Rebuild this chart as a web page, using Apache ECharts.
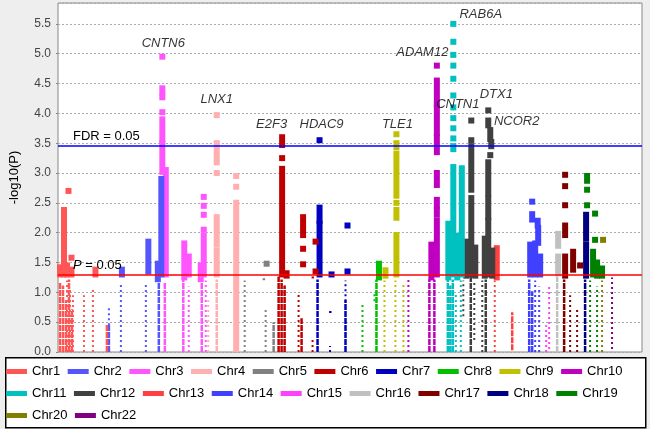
<!DOCTYPE html>
<html><head><meta charset="utf-8">
<script src="https://cdn.jsdelivr.net/npm/echarts/dist/echarts.min.js"></script>
<style>html,body{margin:0;padding:0;background:#eeeeee}#chart{width:650px;height:429px}</style>
</head><body><div id="chart"></div>
<script>
// ---------------- data ----------------
const chromosomes = ['Chr1','Chr2','Chr3','Chr4','Chr5','Chr6','Chr7','Chr8','Chr9','Chr10',
  'Chr11','Chr12','Chr13','Chr14','Chr15','Chr16','Chr17','Chr18','Chr19','Chr20','Chr22'];

const yTicks = [0, 0.5, 1, 1.5, 2, 2.5, 3, 3.5, 4, 4.5, 5, 5.5];
const fdrLevel = 3.45;     // FDR = 0.05
const pLevel = 1.301;      // P = 0.05  (-log10 0.05)

// runs of large markers: [chromosome index, genomic position, -log10P from, -log10P to]
const bigMarkerRuns = [
  [0, 6, 1.3, 2.38], [0, 10.5, 2.7, 2.7], [0, 13.5, 1.58, 1.58], [0, 2, 1.3, 1.42], [0, 9, 1.3, 1.45], [0, 13.5, 1.3, 1.38], [0, 37.5, 1.3, 1.38],
  [1, 64, 1.3, 1.38], [1, 90.5, 1.35, 1.85], [1, 103.5, 1.3, 2.9], [1, 100, 1.22, 1.48],
  [2, 104.5, 4.95, 4.95], [2, 104.5, 4.35, 4.42], [2, 104.5, 4.27, 4.27], [2, 104.5, 4.02, 4.02], [2, 104.5, 3.55, 3.9], [2, 104.5, 3.02, 3.5],
  [2, 108, 1.3, 3.05], [2, 126.5, 1.25, 1.82], [2, 131, 1.3, 1.6], [2, 146, 2.6, 2.6], [2, 146, 2.45, 2.45], [2, 146, 2.3, 2.3], [2, 146, 2.05, 2.05], [2, 146, 1.3, 1.95], [2, 143, 1.22, 1.45],
  [3, 159, 3.97, 3.97], [3, 159, 3.18, 3.5], [3, 159, 3.0, 3.0], [3, 159, 1.8, 2.26], [3, 159, 1.3, 1.7], [3, 178.5, 2.95, 2.95], [3, 178.5, 2.77, 2.77], [3, 178.5, 0.04, 2.5],
  [4, 209, 1.48, 1.48],
  [5, 224.5, 3.47, 3.6], [5, 224.5, 3.25, 3.25], [5, 224.5, 1.3, 3.07], [5, 229, 1.28, 1.32], [5, 245.5, 1.96, 2.26], [5, 245.5, 1.73, 1.73], [5, 245.5, 1.47, 1.47], [5, 258, 1.85, 1.85], [5, 258, 1.35, 1.35],
  [6, 262, 3.55, 3.55], [6, 262, 2.2, 2.42], [6, 262, 1.3, 2.15], [6, 274, 1.3, 1.3], [6, 290, 2.12, 2.12], [6, 290, 1.35, 1.35],
  [7, 321.5, 1.25, 1.48],
  [8, 328, 1.28, 1.37], [8, 339, 3.65, 3.65], [8, 339, 3.43, 3.5], [8, 339, 2.62, 3.32], [8, 339, 2.5, 2.5], [8, 339, 2.25, 2.38], [8, 339, 1.3, 1.96],
  [9, 379.5, 4.8, 4.8], [9, 379.5, 4.15, 4.55], [9, 379.5, 3.67, 4.1], [9, 379.5, 3.5, 3.6], [9, 379.5, 3.35, 3.42], [9, 379.5, 2.95, 3.0], [9, 379.5, 2.8, 2.85],
  [9, 379.5, 2.45, 2.55], [9, 379.5, 2.3, 2.38], [9, 379.5, 1.3, 2.2], [9, 374, 1.25, 1.8],
  [10, 396, 5.5, 5.5], [10, 396, 5.2, 5.2], [10, 396, 4.98, 4.98], [10, 396, 4.8, 4.8], [10, 396, 4.58, 4.58], [10, 396, 4.3, 4.3], [10, 396, 4.1, 4.1],
  [10, 396, 3.92, 3.92], [10, 396, 3.75, 3.75], [10, 396, 3.58, 3.58], [10, 396, 3.4, 3.45], [10, 396, 3.1, 3.1], [10, 396, 1.3, 3.0],
  [10, 404.5, 1.3, 3.08], [10, 391, 1.25, 2.15], [10, 400, 1.25, 1.95],
  [11, 414, 3.88, 3.88], [11, 414, 3.55, 3.55], [11, 414, 2.72, 3.45], [11, 414, 1.3, 2.58], [11, 409, 1.28, 1.85], [11, 418, 1.28, 1.75],
  [11, 431, 4.05, 4.05], [11, 431, 3.8, 3.88], [11, 433, 3.57, 3.72], [11, 434, 3.45, 3.52], [11, 433, 3.3, 3.3], [11, 431, 2.66, 3.18], [11, 431, 2.26, 2.58],
  [11, 431, 1.3, 2.2], [11, 427.5, 1.28, 1.9], [11, 435, 1.28, 1.7],
  [12, 439.5, 1.25, 1.74],
  [13, 475, 2.52, 2.52], [13, 475, 2.22, 2.31], [13, 480.5, 2.12, 2.2], [13, 481, 1.83, 2.08], [13, 473, 1.3, 1.8], [13, 478, 1.3, 1.82], [13, 483, 1.3, 1.6],
  [15, 501, 1.78, 1.98], [15, 501, 1.32, 1.6],
  [16, 508, 2.97, 2.97], [16, 508, 2.78, 2.78], [16, 508, 2.46, 2.46], [16, 508, 1.96, 2.12], [16, 508, 1.28, 1.6], [16, 516, 1.38, 1.68], [16, 523, 1.45, 1.45],
  [17, 529, 1.9, 2.3], [17, 529, 1.28, 1.8],
  [18, 530, 2.87, 2.95], [18, 530, 2.72, 2.72], [18, 530, 2.46, 2.46], [18, 538, 2.32, 2.32], [18, 538, 1.88, 1.88], [18, 536, 1.3, 1.68], [18, 540, 1.28, 1.5], [18, 545, 1.28, 1.4],
  [19, 546, 1.88, 1.88]
];

// dense runs of small markers (below P = 0.05)
const denseDotRuns = [
  [0, 2, 0, 1.15], [0, 5, 0, 1.1], [0, 8, 0, 0.85], [0, 11, 0, 1.2], [0, 14, 0, 0.7], [0, 49, 0, 0.45],
  [1, 51, 0, 0.45], [1, 101, 0, 1.25],
  [2, 107, 0, 1.15], [2, 125.5, 0, 1.2], [2, 144, 0, 1.2],
  [3, 159, 0, 1.2],
  [4, 216, 0, 0.48],
  [5, 221, 0, 1.25], [5, 224, 0, 1.2], [5, 227, 0, 1.1], [5, 244, 0, 0.55],
  [6, 260, 0, 1.2], [6, 288, 0, 0.85],
  [7, 319, 0, 1.2],
  [9, 372, 0, 1.2], [9, 377, 0, 1.2],
  [10, 390.5, 0, 1.2], [10, 393, 0, 1.1], [10, 395.5, 0, 1.2],
  [11, 413.5, 0, 1.25], [11, 428.5, 0, 1.2],
  [12, 455, 0.03, 0.65],
  [13, 472, 0, 1.2], [13, 475, 0, 1.0],
  [15, 500, 0, 1.25],
  [16, 507, 0, 1.2],
  [17, 528, 0, 1.2]
];

// sparse runs / single small markers
const sparseDotRuns = [
  [0, 9, 0, 1.2], [0, 12, 0, 1.05], [0, 15, 0, 0.95], [0, 26, 0, 0.95], [0, 35, 0, 1.05],
  [1, 63, 0, 1.15], [1, 51, 0.45, 0.75], [1, 88, 0, 1.15],
  [2, 131, 0, 1.1], [2, 148, 0, 1.2],
  [3, 150.5, 0, 0.92],
  [4, 187, 0, 1.2], [4, 208, 0, 0.73], [4, 206, 1.22, 1.22],
  [5, 241, 0, 1.0], [5, 255, 0, 0.25], [5, 255, 1.25, 1.25],
  [6, 272.5, 0, 0.1], [6, 272.5, 0.67, 0.67], [6, 288, 0.85, 1.2],
  [7, 305, 0, 0.8], [7, 317, 0.85, 0.98],
  [8, 327, 0, 1.2], [8, 338, 0, 1.2], [8, 346, 0, 1.15],
  [9, 351, 0, 1.25],
  [10, 398.5, 0, 1.0], [10, 403.5, 0, 1.2],
  [11, 406, 0.6, 1.2], [11, 425, 0, 1.2], [11, 417, 0.2, 1.2],
  [12, 437.5, 0, 1.2],
  [13, 478, 0, 1.2], [13, 482, 0, 1.1],
  [14, 492, 0.05, 1.1], [14, 489, 0, 0.45],
  [16, 513, 0, 0.95], [16, 520, 0, 0.75],
  [18, 533, 0, 1.2], [18, 540, 0, 1.1],
  [19, 545, 0, 1.2],
  [20, 555, 0.05, 1.25]
];

// gene annotations: [name, position, -log10P of label]
const geneLabels = [
  ['CNTN6', 105.5, 5.18], ['LNX1', 159, 4.24], ['E2F3', 214, 3.82], ['HDAC9', 264, 3.82], ['TLE1', 340, 3.82],
  ['ADAM12', 365, 5.03], ['RAB6A', 423.5, 5.66], ['CNTN1', 400.5, 4.15], ['DTX1', 439, 4.32], ['NCOR2', 459.5, 3.87]
];

// ---------------- styling ----------------
const colors = ['#ff5555','#5555ff','#ff55ff','#ffafaf','#808080','#c00000','#0000c0','#00c000','#c0c000','#c000c0',
  '#00c0c0','#404040','#ff4040','#4040ff','#ff40ff','#c0c0c0','#800000','#000080','#008000','#808000','#800080'];
const FONT = 'Liberation Sans, Arial, sans-serif';

function renderItem(params, api) {
  const kind = api.value(0), pos = api.value(1), lo = api.value(2), hi = api.value(3);
  const p0 = api.coord([pos, lo]), p1 = api.coord([pos, hi]);
  const color = api.visual('color');
  if (kind === 0) {
    return {type: 'rect', shape: {x: p0[0] - 3, y: p1[1] - 3, width: 6, height: p0[1] - p1[1] + 6}, style: {fill: color}};
  }
  if (kind === 1) {
    return {type: 'line', shape: {x1: p0[0], y1: p0[1], x2: p1[0], y2: p1[1] - 1},
      style: {stroke: color, lineWidth: 2.5, lineDash: [6, 1]}};
  }
  if (p0[1] - p1[1] < 2) {
    return {type: 'rect', shape: {x: p0[0] - 1, y: p1[1] - 1, width: 2.5, height: p0[1] - p1[1] + 2}, style: {fill: color}};
  }
  return {type: 'line', shape: {x1: p0[0], y1: p0[1], x2: p1[0], y2: p1[1]},
    style: {stroke: color, lineWidth: 2, lineDash: [2, 3]}};
}

const series = [];
for (let i = chromosomes.length - 1; i >= 0; i--) {
  const data = [];
  bigMarkerRuns.filter(r => r[0] === i).forEach(r => data.push([0, r[1], r[2], r[3]]));
  denseDotRuns.filter(r => r[0] === i).forEach(r => data.push([1, r[1], r[2], r[3]]));
  sparseDotRuns.filter(r => r[0] === i).forEach(r => data.push([2, r[1], r[2], r[3]]));
  series.push({
    name: chromosomes[i], type: 'custom', renderItem: renderItem,
    itemStyle: {color: colors[i]}, encode: {x: 1, y: [2, 3]},
    data: data, clip: true, silent: true, animation: false
  });
}
series.push({
  type: 'scatter', z: 10, silent: true, animation: false,
  data: geneLabels.map(g => [g[1], g[2], g[0]]),
  symbolSize: 1, itemStyle: {color: 'rgba(0,0,0,0)'},
  label: {show: true, position: 'inside', formatter: p => p.value[2], fontStyle: 'italic', fontSize: 13, color: '#000', fontFamily: FONT},
  markLine: {
    symbol: 'none', silent: true, animation: false,
    data: [
      {yAxis: fdrLevel, lineStyle: {color: '#0000ff', width: 1.5, type: 'solid'},
       label: {show: true, position: 'insideStartTop', formatter: 'FDR = 0.05', color: '#000', fontSize: 13, fontFamily: FONT, distance: [15, 3]}},
      {yAxis: pLevel, lineStyle: {color: '#ff0000', width: 1.5, type: 'solid'},
       label: {show: true, position: 'insideStartTop', formatter: '{i|P} = 0.05', color: '#000', fontSize: 13, fontFamily: FONT, distance: [15, 3],
         rich: {i: {fontStyle: 'italic', fontSize: 13, color: '#000', fontFamily: FONT}}}}
    ]
  }
});

const legendBase = {itemGap: 7.5, itemWidth: 21, itemHeight: 5, icon: 'rect', padding: 0,
  textStyle: {fontSize: 13, color: '#000', fontFamily: FONT}, selectedMode: false};

const option = {
  backgroundColor: '#eeeeee',
  textStyle: {fontFamily: FONT},
  animation: false,
  color: colors,
  grid: {left: 57, right: 8, top: 3, bottom: 77, show: true, backgroundColor: '#ffffff', borderColor: '#888888', borderWidth: 1},
  xAxis: {type: 'value', min: 0, max: 585, show: false},
  yAxis: {
    type: 'value', min: 0, max: 5.85, interval: 0.5,
    name: '-log10(P)', nameLocation: 'middle', nameGap: 37,
    nameTextStyle: {fontSize: 13, color: '#000', fontFamily: FONT},
    axisLabel: {formatter: v => yTicks.indexOf(v) >= 0 ? v.toFixed(1) : '', color: '#444', fontSize: 12, margin: 7, showMaxLabel: false},
    axisLine: {show: false},
    axisTick: {show: true, length: 2, lineStyle: {color: '#888'}},
    splitLine: {show: true, lineStyle: {color: '#aaaaaa', type: [2, 2]}}
  },
  legend: [
    Object.assign({data: chromosomes.slice(0, 10), left: 6, top: 365}, legendBase),
    Object.assign({data: chromosomes.slice(10, 19), left: 6, top: 387}, legendBase),
    Object.assign({data: chromosomes.slice(19), left: 6, top: 409}, legendBase)
  ],
  graphic: [{type: 'rect', left: 5, top: 357, z: 0, shape: {width: 640, height: 70},
    style: {fill: '#ffffff', stroke: '#000000', lineWidth: 1.5}}],
  series: series
};

const chart = echarts.init(document.getElementById('chart'), null, {renderer: 'canvas'});
chart.setOption(option);
</script></body></html>
